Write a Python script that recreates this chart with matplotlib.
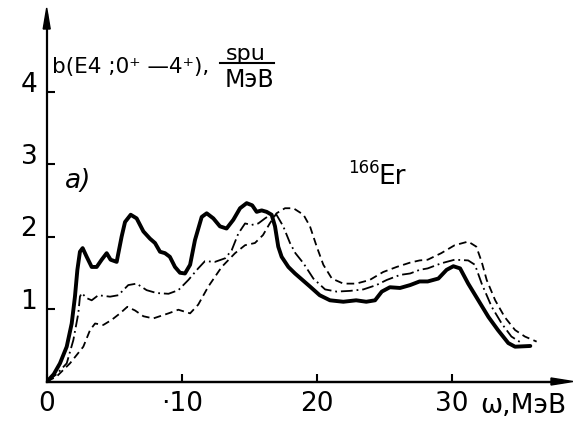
import matplotlib
matplotlib.use('Agg')
import matplotlib.pyplot as plt
from matplotlib.lines import Line2D
from matplotlib.patches import Polygon

plt.rcParams['font.family'] = ['DejaVu Sans']
plt.rcParams['lines.scale_dashes'] = False

# ---- data ----
x_solid = [0, 0.5, 0.96, 1.46, 1.83, 2.07, 2.25, 2.44, 2.64, 2.94, 3.31, 3.68, 4.05, 4.42, 4.71,
           5.16, 5.53, 5.78, 6.2, 6.64, 7.14, 7.63, 8.0, 8.37, 8.74, 9.1, 9.48, 9.85, 10.22,
           10.6, 10.96, 11.46, 11.83, 12.32, 12.81, 13.3, 13.8, 14.3, 14.79, 15.2, 15.53, 15.9,
           16.27, 16.64, 16.89, 17.13, 17.38, 17.88, 18.37, 18.74, 19.48, 20.2, 20.96, 21.95,
           22.9, 23.65, 24.3, 24.8, 25.4, 26.15, 26.9, 27.6, 28.2, 28.99, 29.6, 30.1, 30.6,
           31.2, 31.95, 32.7, 33.4, 34.17, 34.67, 35.8]
y_solid = [0, 0.1, 0.25, 0.48, 0.80, 1.17, 1.54, 1.79, 1.84, 1.72, 1.58, 1.58, 1.68, 1.77, 1.68,
           1.65, 2.00, 2.20, 2.30, 2.25, 2.07, 1.97, 1.91, 1.79, 1.77, 1.72, 1.58, 1.50, 1.49,
           1.61, 1.95, 2.27, 2.32, 2.25, 2.14, 2.11, 2.23, 2.39, 2.46, 2.43, 2.34, 2.36,
           2.34, 2.30, 2.14, 1.86, 1.72, 1.58, 1.49, 1.43, 1.31, 1.19, 1.12, 1.10,
           1.12, 1.10, 1.12, 1.24, 1.30, 1.29, 1.33, 1.38, 1.38, 1.42, 1.54, 1.59, 1.56,
           1.35, 1.12, 0.89, 0.71, 0.53, 0.48, 0.49]

x_dashdot = [0, 0.7, 1.46, 1.95, 2.32, 2.44, 2.57, 2.94, 3.31, 3.8, 4.67, 5.28, 6.02, 6.64, 7.38,
             8.12, 9.0, 9.73, 10.47, 11.2, 11.7, 12.44, 13.2, 13.68, 14.17, 14.67, 15.16, 15.65,
             16.15, 16.64, 17.0, 17.5, 18.0, 18.4, 19.0, 19.73, 20.6, 21.46, 22.44, 23.43, 24.4,
             25.16, 26.15, 26.9, 27.6, 28.2, 29.2, 30.2, 31.2, 31.7, 32.2, 32.94, 33.68, 34.4,
             35.16]
y_dashdot = [0, 0.1, 0.25, 0.57, 0.94, 1.17, 1.22, 1.15, 1.12, 1.19, 1.17, 1.19, 1.33, 1.35, 1.26,
             1.22, 1.21, 1.26, 1.40, 1.56, 1.66, 1.65, 1.70, 1.81, 2.04, 2.18, 2.16, 2.18,
             2.25, 2.31, 2.30, 2.14, 1.91, 1.77, 1.63, 1.42, 1.27, 1.24, 1.25, 1.27, 1.33,
             1.40, 1.47, 1.49, 1.54, 1.56, 1.63, 1.68, 1.67, 1.61, 1.35, 1.03, 0.80, 0.62,
             0.53]

x_dashed = [0, 0.72, 1.7, 2.69, 3.19, 3.56, 4.17, 4.79, 5.41, 5.95, 6.52, 7.14, 7.87, 9.0, 9.73,
            10.6, 11.2, 11.95, 12.94, 13.93, 14.67, 15.4, 16.0, 16.5, 17.0, 17.63, 18.25, 19.0,
            19.48, 19.98, 20.47, 21.1, 21.95, 22.9, 23.9, 24.9, 25.9, 26.9, 27.6, 28.2, 29.2,
            30.2, 31.2, 31.8, 32.2, 32.57, 33.2, 33.9, 34.67, 35.4, 36.27]
y_dashed = [0, 0.07, 0.25, 0.48, 0.71, 0.80, 0.78, 0.85, 0.94, 1.03, 0.98, 0.90, 0.87, 0.94, 0.99,
            0.94, 1.06, 1.31, 1.58, 1.77, 1.88, 1.91, 2.02, 2.18, 2.32, 2.39, 2.39, 2.30,
            2.14, 1.86, 1.61, 1.42, 1.35, 1.35, 1.40, 1.51, 1.58, 1.64, 1.67, 1.68, 1.77,
            1.88, 1.93, 1.86, 1.65, 1.40, 1.12, 0.89, 0.71, 0.62, 0.55]

x_ticks = [0, 10, 20, 30]
x_tick_labels = ['0', '\u00b710', '20', '30']
y_ticks = [1, 2, 3, 4]
y_tick_labels = ['1', '2', '3', '4']

W, H = 573, 421
def fp(x, y):
    return (x / W, 1 - y / H)

fig = plt.figure(figsize=(W / 100, H / 100), dpi=100)
left, right, bottom, top = 47, 560, 381.5, 15
ax = fig.add_axes([left / W, (H - bottom) / H, (right - left) / W, (bottom - top) / H])
ax.set_xlim(0, (right - left) / 13.5)
ax.set_ylim(0, (bottom - top) / 72.5)

ax.plot(x_solid, y_solid, color='black', lw=2.8, solid_joinstyle='round', solid_capstyle='round')
ax.plot(x_dashdot, y_dashdot, color='black', lw=1.3, dashes=[8.5, 2.8, 1.3, 2.8])
ax.plot(x_dashed, y_dashed, color='black', lw=1.3, dashes=[5.5, 3.2])

for s in ['top', 'right']:
    ax.spines[s].set_visible(False)
for s in ['left', 'bottom']:
    ax.spines[s].set_linewidth(1.6)

ax.set_xticks(x_ticks)
ax.set_xticklabels(x_tick_labels, fontsize=19)
ax.set_yticks(y_ticks)
ax.set_yticklabels(y_tick_labels, fontsize=19)
ax.tick_params(axis='both', direction='in', length=6, width=1.5)
ax.tick_params(axis='x', pad=7)
ax.tick_params(axis='y', pad=7)
plt.setp(ax.get_yticklabels(), va='baseline')

# axis arrows
ya = Polygon([fp(46.7, 8), fp(43.2, 29), fp(50.2, 29)], closed=True, color='black',
             transform=fig.transFigure, clip_on=False)
xa = Polygon([fp(573, 381.5), fp(551, 378), fp(551, 385)], closed=True, color='black',
             transform=fig.transFigure, clip_on=False)
fig.add_artist(ya)
fig.add_artist(xa)
fig.add_artist(Line2D([fp(left, 0)[0], fp(556, 0)[0]], [fp(0, bottom)[1]] * 2,
                      color='black', lw=1.6, transform=fig.transFigure))

# texts
fig.text(*fp(52, 73), 'b(E4 ;0\u207a \u20144\u207a),', fontsize=15.5, ha='left', va='baseline')
fig.text(*fp(246, 60), 'spu', fontsize=16, ha='center', va='baseline')
fig.add_artist(Line2D([fp(220, 0)[0], fp(274, 0)[0]], [fp(0, 63)[1]] * 2,
                      color='black', lw=1.5, transform=fig.transFigure))
fig.text(*fp(249, 87), 'МэВ', fontsize=17, ha='center', va='baseline')
fig.text(*fp(65, 188), 'a)', fontsize=19, style='italic', ha='left', va='baseline')
fig.text(*fp(348, 173), '166', fontsize=12, ha='left', va='baseline')
fig.text(*fp(378, 184), 'Er', fontsize=19, ha='left', va='baseline')
fig.text(*fp(480, 413), '\u03c9,МэВ', fontsize=19, ha='left', va='baseline')

fig.savefig('out.png', dpi=100)
